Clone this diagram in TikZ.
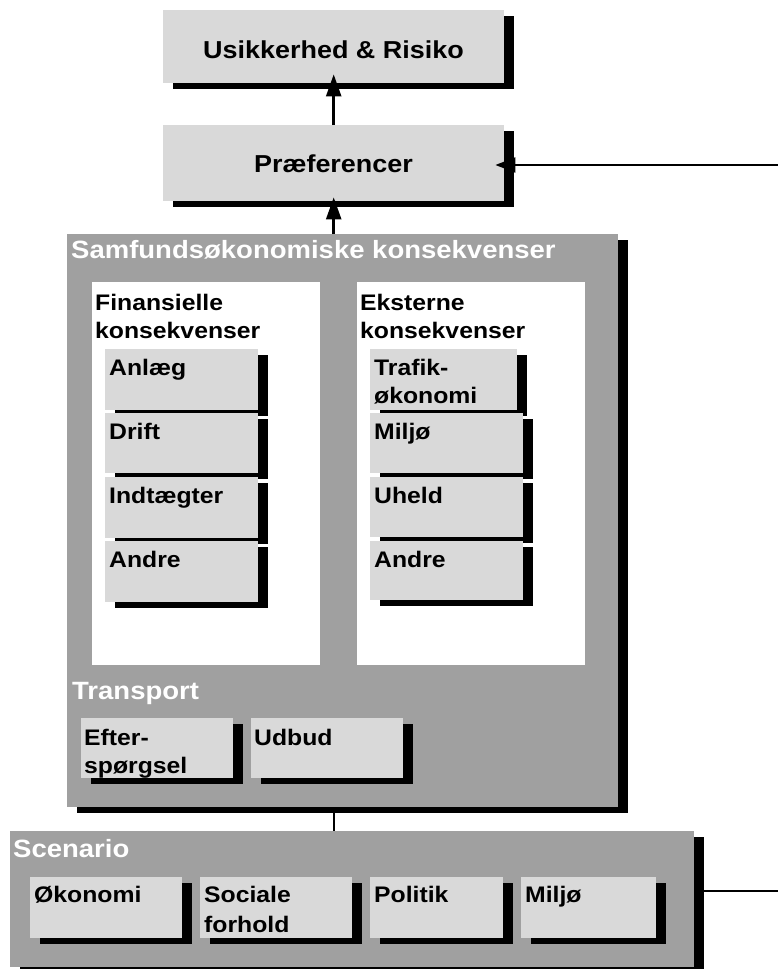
\documentclass[tikz,border=0pt]{standalone}
\usepackage{fontspec}
\setmainfont{Liberation Sans}[FakeStretch=1.1]
\usetikzlibrary{shadows,arrows.meta,calc}
\definecolor{lgray}{RGB}{217,217,217}
\definecolor{dgray}{RGB}{160,160,160}
\tikzset{
 sh/.style={general shadow={shadow xshift=10pt, shadow yshift=-6pt, fill=black}},
 gbox/.style={rectangle, fill=lgray, draw=none, sh, inner sep=0pt, anchor=north west},
 cont/.style={rectangle, fill=dgray, draw=none, inner sep=0pt, anchor=north west,
   general shadow={shadow xshift=10pt, shadow yshift=-6pt, fill=black}},
 panel/.style={rectangle, fill=white, draw=none, inner sep=0pt, anchor=north west},
 btxt/.style={font=\fontsize{22.5}{28}\selectfont\bfseries, inner sep=0pt, align=left, text=black, anchor=base west},
 wtxt/.style={font=\fontsize{25}{28}\selectfont\bfseries, inner sep=0pt, text=white, anchor=base west},
 ttxt/.style={font=\fontsize{24.5}{28}\selectfont\bfseries, inner sep=0pt, text=black, anchor=base},
 arr/.style={line width=2.5pt, -{Triangle[length=22pt,width=15pt]}},
 conn/.style={line width=2.2pt},
}
\begin{document}
\begin{tikzpicture}[x=1pt,y=-1pt]
\useasboundingbox (0,0) rectangle (778,969);
% top boxes
\node[gbox, minimum width=341pt, minimum height=73pt] (usik) at (163,10) {};
\node[ttxt] (usikt) at (333.5,58) {Usikkerhed \& Risiko};
\node[gbox, minimum width=341pt, minimum height=76pt] (pref) at (163,125) {};
\node[ttxt] (preft) at (333.5,172) {Præferencer};
% Samfund container
\node[cont, minimum width=551pt, minimum height=573pt] (samf) at (67,234) {};
\node[wtxt] (samft) at (71,258) {Samfundsøkonomiske konsekvenser};
\node[panel, minimum width=228pt, minimum height=383pt] (fin) at (92,282) {};
\node[panel, minimum width=228pt, minimum height=383pt] (eks) at (357,282) {};
\node[btxt] (fint) at (95,338) {Finansielle\\konsekvenser};
\node[btxt] (ekst) at (360,338) {Eksterne\\konsekvenser};
% left column
\node[gbox, minimum width=153pt, minimum height=61pt] (anl) at (105,349) {};
\node[btxt] (anlt) at ($(anl.north west)+(4,26)$) {Anlæg};
\node[gbox, minimum width=153pt, minimum height=60pt] (dri) at (105,413) {};
\node[btxt] (drit) at ($(dri.north west)+(4,26)$) {Drift};
\node[gbox, minimum width=153pt, minimum height=61pt] (ind) at (105,477) {};
\node[btxt] (indt) at ($(ind.north west)+(4,26)$) {Indtægter};
\node[gbox, minimum width=153pt, minimum height=61pt] (an1) at (105,541) {};
\node[btxt] (an1t) at ($(an1.north west)+(4,26)$) {Andre};
% right column
\node[gbox, minimum width=147pt, minimum height=61pt] (tra) at (370,349) {};
\node[btxt] (trat) at ($(tra.north west)+(4,54)$) {Trafik-\\økonomi};
\node[gbox, minimum width=153pt, minimum height=60pt] (mil) at (370,413) {};
\node[btxt] (milt) at ($(mil.north west)+(4,26)$) {Miljø};
\node[gbox, minimum width=153pt, minimum height=60pt] (uhe) at (370,477) {};
\node[btxt] (uhet) at ($(uhe.north west)+(4,26)$) {Uheld};
\node[gbox, minimum width=153pt, minimum height=59pt] (an2) at (370,541) {};
\node[btxt] (an2t) at ($(an2.north west)+(4,26)$) {Andre};
% transport
\node[wtxt] (trant) at (72,699) {Transport};
\node[gbox, minimum width=152pt, minimum height=60pt] (eft) at (81,718) {};
\node[btxt] (eftt) at ($(eft.north west)+(3,55)$) {Efter-\\spørgsel};
\node[gbox, minimum width=152pt, minimum height=60pt] (udb) at (251,718) {};
\node[btxt] (udbt) at ($(udb.north west)+(3,27)$) {Udbud};
% scenario
\node[cont, minimum width=684pt, minimum height=136pt] (scen) at (10,831) {};
\node[wtxt] (scent) at (13,857) {Scenario};
\node[gbox, minimum width=152pt, minimum height=61pt] (oko) at (30,877) {};
\node[btxt] (okot) at ($(oko.north west)+(4,25)$) {Økonomi};
\node[gbox, minimum width=152pt, minimum height=61pt] (soc) at (200,877) {};
\node[btxt] (soct) at ($(soc.north west)+(4,55)$) {Sociale\\[2pt]forhold};
\node[gbox, minimum width=133pt, minimum height=61pt] (pol) at (370,877) {};
\node[btxt] (polt) at ($(pol.north west)+(4,25)$) {Politik};
\node[gbox, minimum width=135pt, minimum height=61pt] (msc) at (521,877) {};
\node[btxt] (msct) at ($(msc.north west)+(4,25)$) {Miljø};
% connectors
\coordinate (rin) at (778,165);
\coordinate (rout) at (778,891);
\draw[arr, shorten >=-9pt] (pref.north) -- (usik.south);
\draw[arr, shorten >=-4pt] (pref.south |- samf.north) -- (pref.south);
\draw[line width=2pt, -{Triangle[length=20pt,width=15pt]}, shorten >=-9pt] (rin) -- (pref.east |- rin);
\draw[conn] (pref.south |- samf.south) -- (pref.south |- scen.north);
\draw[conn] (scen.east |- rout) -- (rout);
\end{tikzpicture}
\end{document}
